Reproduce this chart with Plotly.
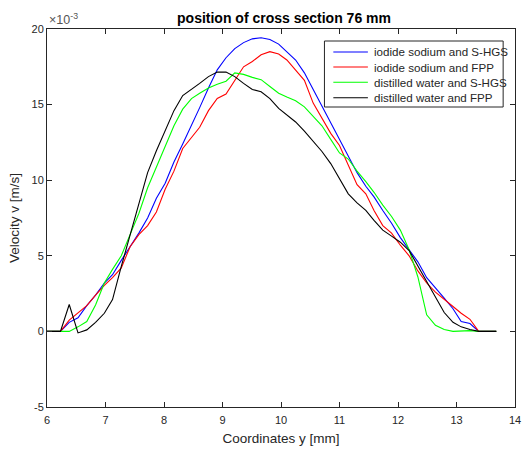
import plotly.graph_objects as go

# Coordinates y [mm]
x_grid = [6.00, 6.23, 6.38, 6.53, 6.68, 6.83, 6.98, 7.12, 7.27, 7.42, 7.57,
          7.72, 7.87, 8.02, 8.17, 8.32, 8.47, 8.61, 8.76, 8.91, 9.06,
          9.21, 9.36, 9.51, 9.66, 9.81, 9.96, 10.10, 10.25, 10.40, 10.55,
          10.70, 10.85, 11.00, 11.15, 11.30, 11.45, 11.59, 11.74, 11.89, 12.04,
          12.19, 12.34, 12.49, 12.64, 12.79, 12.94, 13.08, 13.23, 13.38, 13.68]

# Velocity v [x 1e-3 m/s]
iodide_shgs = [0, 0, 0.6, 0.9, 1.7, 2.4, 3.2, 3.75, 4.7, 5.6, 6.5,
               7.5, 8.8, 9.8, 11.2, 12.4, 13.6, 14.8, 16.1, 17.3, 18.1,
               18.7, 19.1, 19.35, 19.42, 19.3, 19.0, 18.5, 17.95, 17.1, 16.0,
               14.9, 13.9, 12.8, 11.6, 10.5, 9.6, 8.9, 8.0, 7.15, 6.2,
               5.4, 4.6, 3.55, 2.9, 2.2, 1.5, 0.65, 0.52, 0, 0]

iodide_fpp = [0, 0, 0.75, 1.2, 1.7, 2.4, 3.05, 3.55, 4.2, 5.6, 6.4,
              7.0, 7.9, 9.4, 10.6, 12.1, 12.8, 13.5, 14.6, 15.4, 15.7,
              16.6, 17.5, 17.85, 18.3, 18.5, 18.35, 17.95, 17.3, 16.6, 15.1,
              14.1, 13.1, 12.3, 11.0, 9.7, 9.1, 8.0, 7.0, 6.5, 5.7,
              5.0, 4.0, 3.2, 2.6, 2.1, 1.65, 1.2, 0.8, 0, 0]

water_shgs = [0, 0, 0, 0.3, 0.65, 1.75, 3.2, 4.1, 5.0, 6.4, 7.8,
              9.5, 10.9, 12.2, 13.6, 14.7, 15.4, 15.75, 16.1, 16.35, 16.55,
              17.1, 17.0, 16.8, 16.65, 16.2, 15.75, 15.5, 15.25, 14.85, 14.2,
              13.6, 12.7, 11.8, 11.4, 10.6, 9.9, 9.2, 8.35, 7.6, 6.7,
              5.4, 3.6, 1.1, 0.4, 0.12, 0, 0.02, 0.05, 0, 0]

water_fpp = [0, 0, 1.78, -0.1, 0.1, 0.6, 1.2, 2.1, 4.3, 6.4, 8.5,
             10.5, 11.95, 13.3, 14.6, 15.6, 16.0, 16.4, 16.85, 17.15, 17.15,
             16.85, 16.4, 16.0, 15.85, 15.4, 14.75, 14.3, 13.85, 13.25, 12.6,
             11.9, 11.1, 10.05, 9.1, 8.5, 8.0, 7.35, 6.7, 6.3, 5.9,
             5.35, 4.3, 3.3, 2.3, 1.25, 0.6, 0.3, 0.12, 0, 0]

series_names = ["iodide sodium and S-HGS", "iodide sodium and FPP",
                "distilled water and S-HGS", "distilled water and FPP"]
series_values = [iodide_shgs, iodide_fpp, water_shgs, water_fpp]
series_colors = ["#0000ff", "#ff0000", "#00ff00", "#000000"]

x_ticks = [6, 7, 8, 9, 10, 11, 12, 13, 14]
x_ticktext = ["6", "7", "8", "9", "10", "11", "12", "13", "14"]
y_ticks = [-5, 0, 5, 10, 15, 20]
y_ticktext = ["-5", "0", "5", "10", "15", "20"]

FONT = "Liberation Sans, Arial, Helvetica, sans-serif"
AXC = "#262626"
W, H = 526, 450
ML, MR, MT, MB = 47, 5, 29, 43
PW, PH = W - ML - MR, H - MT - MB


def px_to_paper(px, py):
    return (px - ML) / PW, (H - MB - py) / PH


fig = go.Figure()
for name, vals, col in zip(series_names, series_values, series_colors):
    fig.add_trace(go.Scatter(x=x_grid, y=vals, mode="lines", name=name,
                             line=dict(color=col, width=1.1), showlegend=False))

axis_common = dict(showgrid=False, zeroline=False, showline=True, mirror="ticks",
                   linecolor=AXC, linewidth=1, ticks="inside", ticklen=5,
                   tickcolor=AXC, tickwidth=1, ticklabeloverflow="allow",
                   tickfont=dict(family=FONT, size=11, color=AXC))

fig.update_layout(
    width=W, height=H,
    margin=dict(l=ML, r=MR, t=MT, b=MB),
    paper_bgcolor="white", plot_bgcolor="white",
    title=dict(text="<b>position of cross section 76 mm</b>",
               x=(ML + W - MR) / 2 / W, xanchor="center",
               y=1 - 18 / H, yanchor="middle",
               font=dict(family=FONT, size=14, color="#000000")),
    xaxis=dict(range=[6, 14], tickvals=x_ticks, ticktext=x_ticktext,
               ticklabelstandoff=3,
               title=dict(text="Coordinates y [mm]", standoff=8,
                          font=dict(family=FONT, size=13.5, color=AXC)),
               **axis_common),
    yaxis=dict(range=[-5, 20], tickvals=y_ticks, ticktext=y_ticktext,
               title=dict(text="Velocity v [m/s]", standoff=8,
                          font=dict(family=FONT, size=13.5, color=AXC)),
               **axis_common),
    showlegend=False,
)

# exponent label
fig.add_annotation(text="\u00d710<sup>-3</sup>", xref="paper", yref="paper",
                   x=0, xanchor="left", y=1, yanchor="bottom",
                   showarrow=False, font=dict(family=FONT, size=12.5, color="#555555"))

# legend box (drawn manually to match compact row spacing)
bx0, by0 = px_to_paper(328, 107)
bx1, by1 = px_to_paper(509, 41)
fig.add_shape(type="rect", xref="paper", yref="paper", x0=bx0, y0=by0, x1=bx1, y1=by1,
              line=dict(color=AXC, width=1), fillcolor="white", layer="above")
row_y = [52, 67, 82.3, 97.7]
for name, col, ry in zip(series_names, series_colors, row_y):
    lx0, ly = px_to_paper(337, ry)
    lx1, _ = px_to_paper(372, ry)
    fig.add_shape(type="line", xref="paper", yref="paper", x0=lx0, y0=ly, x1=lx1, y1=ly,
                  line=dict(color=col, width=1.1), layer="above")
    tx, _ = px_to_paper(376, ry)
    fig.add_annotation(text=name, xref="paper", yref="paper", x=tx, y=ly,
                       xanchor="left", yanchor="middle", showarrow=False,
                       font=dict(family=FONT, size=11.6, color=AXC))

fig.write_html("out.html")
